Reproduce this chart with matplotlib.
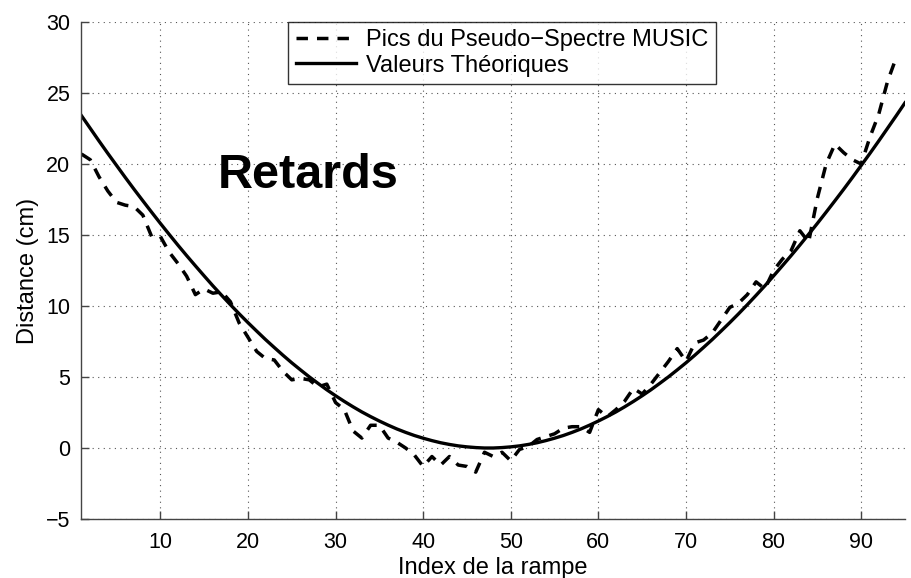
import matplotlib
matplotlib.use("Agg")
import matplotlib.pyplot as plt

plt.rcParams['font.family'] = ['Liberation Sans', 'DejaVu Sans']

# ---- data ----
idx_theo = list(range(1, 96))
theo = [23.40, 22.51, 21.62, 20.75, 19.90, 19.05, 18.22, 17.41, 16.61, 15.82,
        15.05, 14.29, 13.55, 12.83, 12.12, 11.42, 10.75, 10.09, 9.45, 8.83,
        8.23, 7.64, 7.08, 6.53, 6.00, 5.50, 5.01, 4.55, 4.10, 3.68,
        3.28, 2.90, 2.54, 2.21, 1.90, 1.61, 1.34, 1.10, 0.88, 0.69,
        0.52, 0.37, 0.25, 0.15, 0.08, 0.03, 0.00, 0.00, 0.03, 0.08,
        0.15, 0.25, 0.37, 0.52, 0.69, 0.88, 1.10, 1.34, 1.61, 1.90,
        2.21, 2.54, 2.90, 3.28, 3.68, 4.10, 4.55, 5.01, 5.50, 6.00,
        6.53, 7.08, 7.64, 8.23, 8.83, 9.45, 10.09, 10.75, 11.42, 12.12,
        12.83, 13.55, 14.29, 15.05, 15.82, 16.61, 17.41, 18.22, 19.05, 19.90,
        20.75, 21.62, 22.51, 23.40, 24.31]

idx_music = list(range(1, 95))
music = [20.7, 20.3, 19.1, 18.1, 17.3, 17.1, 17.0, 16.4, 14.9, 14.9,
         13.8, 13.0, 12.1, 10.8, 11.2, 10.9, 11.0, 10.3, 8.8, 7.8,
         6.8, 6.3, 6.2, 5.4, 4.8, 4.9, 4.8, 4.3, 4.5, 3.2,
         2.7, 1.2, 0.7, 1.6, 1.6, 0.7, 0.4, 0.0, -0.5, -1.3,
         -0.6, -1.2, -0.6, -1.2, -1.3, -1.7, -0.3, -0.6, -0.3, -0.9,
         -0.1, 0.1, 0.6, 0.8, 1.0, 1.4, 1.5, 1.5, 1.1, 2.7,
         2.2, 2.7, 3.3, 4.2, 3.8, 4.5, 5.3, 6.1, 7.0, 6.1,
         7.4, 7.6, 8.1, 9.0, 9.9, 10.2, 10.8, 11.7, 11.2, 12.5,
         13.3, 13.9, 15.3, 14.5, 17.6, 20.0, 21.4, 20.8, 20.3, 20.0,
         21.9, 23.5, 25.8, 27.5]

xticks = [10, 20, 30, 40, 50, 60, 70, 80, 90]
yticks = [-5, 0, 5, 10, 15, 20, 25, 30]
label_music = "Pics du Pseudo\u2212Spectre MUSIC"
label_theo = "Valeurs Théoriques"

fig = plt.figure(figsize=(9.12, 5.78), dpi=100)
ax = fig.add_axes([81.5/912, 1-519/578, (905-81.5)/912, (519-22)/578])

ax.plot(idx_music, music, color='black', lw=2.5, linestyle=(0, (3.3, 2.6)),
        label=label_music)
ax.plot(idx_theo, theo, color='black', lw=2.4, label=label_theo)

ax.set_xlim(1, 95)
ax.set_ylim(-5, 30)
ax.set_xticks(xticks)
ax.set_yticks(yticks)
ax.set_yticklabels([str(v).replace('-', '\u2212') for v in yticks])
ax.grid(True, linestyle=(0, (1, 4)), color='#555555', lw=0.8)
for s in ['top', 'right']:
    ax.spines[s].set_visible(False)
for s in ['left', 'bottom']:
    ax.spines[s].set_color('#444444')
    ax.spines[s].set_linewidth(1.0)
ax.tick_params(direction='in', length=6, width=1, colors='#444444',
               labelcolor='black', labelsize=15.5)
ax.tick_params(axis='x', pad=9)
ax.tick_params(axis='y', pad=8)

ax.set_xlabel("Index de la rampe", fontsize=17, labelpad=3)
ax.set_ylabel("Distance (cm)", fontsize=17, labelpad=5)

ax.text(16.5, 18.3, "Retards", fontsize=35, fontweight='bold',
        ha='left', va='baseline')

leg = ax.legend(loc='upper left', bbox_to_anchor=((288.5-81.5)/(905-81.5), 1.0),
                fontsize=17, frameon=True, fancybox=False, borderaxespad=0,
                handlelength=2.55, handletextpad=0.45, borderpad=0.3,
                labelspacing=0.15)
leg.get_frame().set_edgecolor('black')
leg.get_frame().set_linewidth(1.0)

fig.savefig("out.png", dpi=100)
